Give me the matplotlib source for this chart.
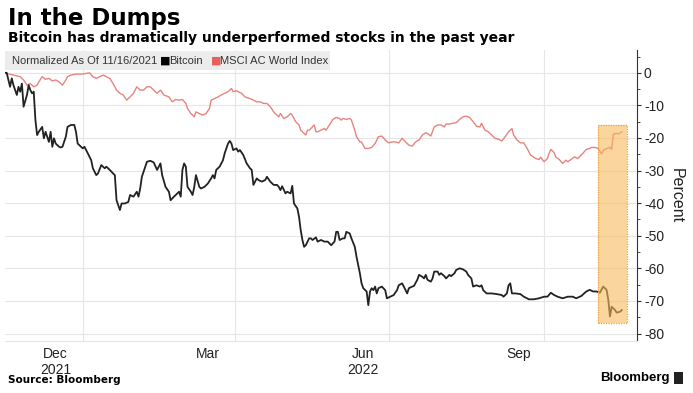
import matplotlib
matplotlib.use("Agg")
import matplotlib.pyplot as plt
import matplotlib.dates as mdates
import matplotlib.ticker as mticker
from matplotlib.patches import Rectangle
import pandas as pd

plt.rcParams["font.family"] = ["Liberation Sans", "DejaVu Sans"]
plt.rcParams["axes.unicode_minus"] = False

START = pd.Timestamp("2021-11-16")

# days since 11/16/2021, % change
btc_days = [0, 1, 3, 4, 5, 7, 8, 9, 10, 11, 13, 14, 15, 16, 17, 18, 19, 20, 22, 23,
            24, 26, 27, 28, 29, 30, 32, 33, 34, 36, 37, 39, 41, 42, 43, 44, 46, 47, 49, 51,
            52, 54, 55, 57, 59, 60, 62, 64, 65, 66, 68, 69, 71, 73, 74, 76, 78, 79, 80, 81,
            83, 84, 86, 88, 90, 92, 93, 95, 97, 98, 100, 101, 103, 104, 105, 106, 107, 108, 110, 111,
            112, 113, 115, 116, 118, 120, 122, 123, 124, 125, 127, 129, 130, 132, 133, 134, 135, 137, 138, 139,
            141, 143, 145, 146, 147, 149, 150, 152, 154, 155, 157, 159, 161, 162, 163, 164, 166, 167, 169, 170,
            171, 173, 174, 175, 176, 177, 178, 180, 181, 182, 184, 185, 187, 189, 191, 193, 195, 196, 197, 198,
            200, 201, 202, 204, 205, 207, 208, 210, 211, 212, 214, 215, 216, 217, 218, 219, 220, 221, 223, 225,
            226, 228, 230, 232, 233, 235, 236, 238, 239, 241, 242, 244, 245, 247, 248, 249, 250, 252, 253, 254,
            256, 257, 258, 260, 261, 263, 264, 266, 267, 269, 271, 273, 274, 276, 277, 279, 281, 282, 283, 285,
            288, 291, 294, 295, 297, 298, 299, 300, 302, 305, 307, 310, 313, 316, 319, 321, 323, 325, 327, 330,
            333, 336, 338, 341, 344, 346, 348, 350, 352, 354, 356, 357, 358, 359, 361, 362, 364, 365]
btc_pct = [0, 0, -4.3, -1.7, -3.8, -6.8, -4.3, -5.8, -3.3, -10.4, -6.8, -3.8, -5.3, -6.3, -5.8, -14.5, -19.1, -18.1, -16.6, -20.1,
           -18.1, -21.2, -18.1, -22.7, -20.1, -21.7, -22.7, -22.9, -22.7, -19.6, -16.6, -16.0, -16.0, -18.1, -21.7, -22.2, -23.2, -22.7, -24.7, -26.8,
           -29.3, -31.4, -30.9, -28.3, -29.3, -28.8, -29.8, -30.9, -31.4, -39.1, -42.1, -40.1, -40.1, -39.6, -37.5, -38.0, -36.5, -38.0, -35.5, -31.9,
           -28.8, -27.3, -27.0, -27.5, -29.8, -27.8, -31.4, -35.0, -36.5, -39.1, -38.0, -37.5, -36.5, -38.0, -29.8, -27.8, -28.8, -35.0, -36.5, -37.5,
           -35.0, -31.4, -35.0, -35.5, -35.0, -34.0, -32.4, -31.4, -32.4, -29.8, -28.8, -26.8, -24.7, -21.7, -20.9, -21.7, -23.7, -23.2, -24.2, -23.7,
           -25.2, -27.8, -29.3, -29.8, -34.4, -32.4, -32.9, -33.4, -32.9, -31.9, -33.4, -34.4, -34.4, -35.0, -36.0, -34.8, -37.0, -36.5, -37.0, -34.7,
           -40.1, -41.6, -44.2, -48.3, -51.3, -53.4, -52.9, -50.8, -50.8, -51.3, -50.5, -51.8, -51.3, -51.8, -51.8, -52.9, -51.8, -48.8, -48.8, -51.3,
           -50.8, -50.8, -48.8, -49.3, -50.8, -53.4, -56.4, -61.5, -64.6, -66.1, -67.1, -71.3, -67.1, -66.1, -66.7, -65.6, -67.7, -66.1, -65.6, -66.7,
           -69.2, -68.7, -68.2, -66.7, -65.2, -64.6, -65.6, -67.7, -66.1, -65.6, -65.4, -63.5, -62.0, -62.6, -63.1, -62.0, -63.5, -64.1, -63.1, -61.0,
           -61.0, -62.0, -61.5, -62.4, -63.1, -62.0, -62.4, -61.5, -60.5, -60.0, -60.3, -61.0, -62.0, -63.1, -65.6, -65.2, -65.6, -65.2, -66.7, -67.7,
           -67.7, -67.9, -68.2, -68.7, -67.7, -65.2, -64.6, -67.7, -67.7, -67.9, -68.7, -69.5, -69.5, -69.2, -68.7, -68.7, -67.5, -68.2, -68.7, -69.2,
           -68.7, -68.7, -69.2, -68.5, -67.1, -66.6, -67.1, -67.1, -67.5, -65.6, -66.6, -69.6, -74.8, -71.8, -72.8, -73.6, -73.3, -72.8]

msci_days = [0, 1, 5, 9, 11, 13, 15, 17, 19, 20, 22, 24, 26, 28, 30, 32, 34, 36, 37, 39,
             42, 45, 48, 50, 52, 54, 56, 58, 60, 62, 64, 66, 68, 70, 72, 74, 76, 78, 80, 82,
             84, 86, 88, 90, 92, 94, 97, 99, 101, 103, 105, 107, 108, 110, 112, 113, 115, 117, 119, 121,
             122, 124, 126, 128, 130, 132, 134, 135, 137, 138, 140, 142, 145, 147, 149, 151, 153, 155, 157, 159,
             160, 162, 163, 165, 167, 169, 170, 172, 174, 175, 177, 178, 179, 180, 181, 183, 184, 185, 187, 189,
             190, 192, 194, 196, 198, 199, 200, 202, 204, 205, 207, 208, 210, 211, 213, 215, 217, 219, 221, 223,
             225, 227, 229, 231, 233, 235, 237, 239, 241, 243, 245, 247, 249, 250, 252, 254, 256, 258, 260, 261,
             263, 265, 267, 269, 271, 273, 275, 277, 279, 281, 282, 284, 286, 288, 290, 292, 294, 296, 298, 300,
             301, 303, 305, 307, 309, 311, 314, 316, 317, 319, 321, 322, 323, 325, 326, 328, 330, 332, 333, 335,
             337, 339, 341, 342, 344, 346, 347, 349, 351, 353, 354, 356, 358, 359, 360, 362, 363, 365]
msci_pct = [0, -0.2, -0.7, -1.2, -2.2, -3.8, -3.3, -4.3, -3.8, -2.8, -1.2, -2.0, -1.7, -2.5, -2.2, -2.8, -3.8, -2.2, -1.2, -0.7,
            -0.4, -0.4, -0.2, 0.0, -1.2, -1.7, -1.2, -0.7, -1.2, -1.7, -3.3, -5.3, -6.3, -6.8, -8.4, -7.4, -6.3, -4.3, -5.3, -5.3,
            -4.3, -4.3, -5.3, -6.3, -5.3, -6.8, -7.4, -8.9, -8.2, -8.4, -8.2, -9.4, -10.9, -12.5, -13.5, -12.0, -12.5, -13.0, -12.5, -10.9,
            -8.4, -7.9, -7.4, -6.8, -6.3, -5.8, -4.8, -5.8, -5.5, -5.8, -6.3, -7.4, -7.9, -8.4, -8.9, -8.9, -9.4, -9.4, -10.4, -12.0,
            -12.5, -13.5, -12.5, -14.0, -13.5, -12.5, -13.0, -15.0, -16.0, -17.6, -18.6, -19.1, -17.6, -17.6, -17.1, -16.0, -18.1, -18.1, -17.6, -17.1,
            -17.6, -16.0, -14.3, -13.7, -14.0, -14.5, -14.0, -14.3, -14.0, -14.5, -17.6, -19.6, -21.2, -21.2, -23.2, -23.2, -22.9, -21.7, -19.6, -19.4,
            -20.6, -21.5, -21.2, -21.2, -21.5, -20.1, -21.2, -22.2, -22.5, -21.2, -20.6, -19.1, -18.4, -18.6, -19.4, -16.6, -16.0, -16.0, -16.6, -15.7,
            -15.7, -15.5, -15.3, -14.3, -13.5, -13.3, -13.7, -15.0, -16.4, -16.6, -15.5, -17.6, -18.1, -19.1, -20.1, -20.4, -20.9, -19.6, -18.1, -17.1,
            -19.1, -20.6, -21.5, -21.5, -23.2, -25.2, -26.3, -26.6, -25.9, -27.3, -26.3, -24.7, -23.5, -24.5, -25.9, -26.6, -27.8, -26.8, -27.3, -26.6,
            -25.8, -26.3, -25.2, -24.7, -23.5, -23.2, -22.9, -22.9, -23.2, -24.9, -23.9, -23.2, -22.9, -23.5, -18.8, -18.6, -18.8, -18.1]

# highlighted FTX window
hl_start, hl_end = 351, 368
hl_top, hl_bottom = -16.1, -76.7

month_ticks = ["2021-12-16", "2022-03-16", "2022-06-16", "2022-09-16"]
month_labels = ["Dec\n2021", "Mar", "Jun\n2022", "Sep"]
quarter_lines = ["2022-01-01", "2022-04-01", "2022-07-01", "2022-10-01"]

BLACK = "#222222"
RED = "#e8837f"
GRID = "#e6e6e6"


def to_dates(days):
    return START + pd.to_timedelta(days, unit="D")


def main() -> None:
    fig = plt.figure(figsize=(6.93, 3.93), dpi=100)
    ax = fig.add_axes([5 / 693, 1 - 341 / 393, 632 / 693, 291 / 393])

    ax.plot(to_dates(msci_days), msci_pct, color=RED, lw=1.0, zorder=3)
    ax.plot(to_dates(btc_days), btc_pct, color=BLACK, lw=1.3, zorder=4)

    x0 = mdates.date2num(START + pd.Timedelta(days=hl_start))
    x1 = mdates.date2num(START + pd.Timedelta(days=hl_end))
    ax.add_patch(Rectangle((x0, hl_bottom), x1 - x0, hl_top - hl_bottom,
                           facecolor="#f7b95c", alpha=0.6, edgecolor="none", zorder=5))
    ax.add_patch(Rectangle((x0, hl_bottom), x1 - x0, hl_top - hl_bottom,
                           facecolor="none", edgecolor="#eea23a", lw=0.9, ls=(0, (1, 1)), zorder=6))

    ax.set_xlim(START, START + pd.Timedelta(days=374))
    ax.set_ylim(-82.3, 7.0)

    ax.yaxis.tick_right()
    ax.yaxis.set_label_position("right")
    ax.yaxis.set_major_locator(mticker.MultipleLocator(10))
    ax.yaxis.set_minor_locator(mticker.MultipleLocator(5))
    ax.yaxis.set_major_formatter(mticker.FuncFormatter(lambda v, p: f"{v:.0f}"))
    ax.tick_params(axis="y", which="major", length=3, width=0.8, color="#333333",
                   labelsize=10, labelcolor="#222222", pad=2)
    ax.tick_params(axis="y", which="minor", length=2, width=0.6, color="#333333")
    ax.set_ylabel("Percent", rotation=270, labelpad=14, fontsize=11.5, color="#222222")

    ax.set_xticks(pd.to_datetime(quarter_lines))
    ax.set_xticklabels([])
    ax.set_xticks(pd.to_datetime(month_ticks), minor=True)
    ax.set_xticklabels(month_labels, minor=True)
    ax.tick_params(axis="x", which="both", length=0, labelsize=10, labelcolor="#222222", pad=4)

    ax.grid(True, which="major", axis="both", color=GRID, lw=0.8, zorder=0)
    for side in ["top", "left"]:
        ax.spines[side].set_visible(False)
    ax.spines["bottom"].set_color(GRID)
    ax.spines["right"].set_color("#333333")
    ax.spines["right"].set_linewidth(0.8)

    # legend band
    fig.patches.append(Rectangle((5 / 693, 1 - 70 / 393), 325 / 693, 19 / 393,
                                 transform=fig.transFigure, facecolor="#ececec",
                                 edgecolor="none", zorder=1))
    ly = 1 - 61 / 393
    fig.text(12 / 693, ly, "Normalized As Of 11/16/2021", fontsize=8, color="#333333", va="center")
    fig.text(160 / 693, ly, "■", fontsize=8, color="black", va="center", family="DejaVu Sans")
    fig.text(169 / 693, ly, "Bitcoin", fontsize=8, color="#333333", va="center")
    fig.text(211 / 693, ly, "■", fontsize=8, color="#e8605c", va="center", family="DejaVu Sans")
    fig.text(220 / 693, ly, "MSCI AC World Index", fontsize=8, color="#333333", va="center")

    fig.text(8 / 693, 1 - 18 / 393, "In the Dumps", fontsize=16.5, fontweight="bold",
             family="DejaVu Sans", va="center", color="black")
    fig.text(8 / 693, 1 - 38 / 393, "Bitcoin has dramatically underperformed stocks in the past year",
             fontsize=10, fontweight="bold", family="DejaVu Sans", va="center", color="black")
    fig.text(8 / 693, 1 - 380 / 393, "Source: Bloomberg", fontsize=7.5, fontweight="bold",
             family="DejaVu Sans", va="center", color="black")
    fig.text(670 / 693, 1 - 378 / 393, "Bloomberg", fontsize=9.5, fontweight="bold", ha="right",
             va="center", color="black")
    fig.patches.append(Rectangle((674 / 693, 1 - 384 / 393), 9 / 693, 12 / 393,
                                 transform=fig.transFigure, facecolor="#222222",
                                 edgecolor="none"))

    fig.savefig("out.png", dpi=100)
    plt.close(fig)


if __name__ == "__main__":
    main()
